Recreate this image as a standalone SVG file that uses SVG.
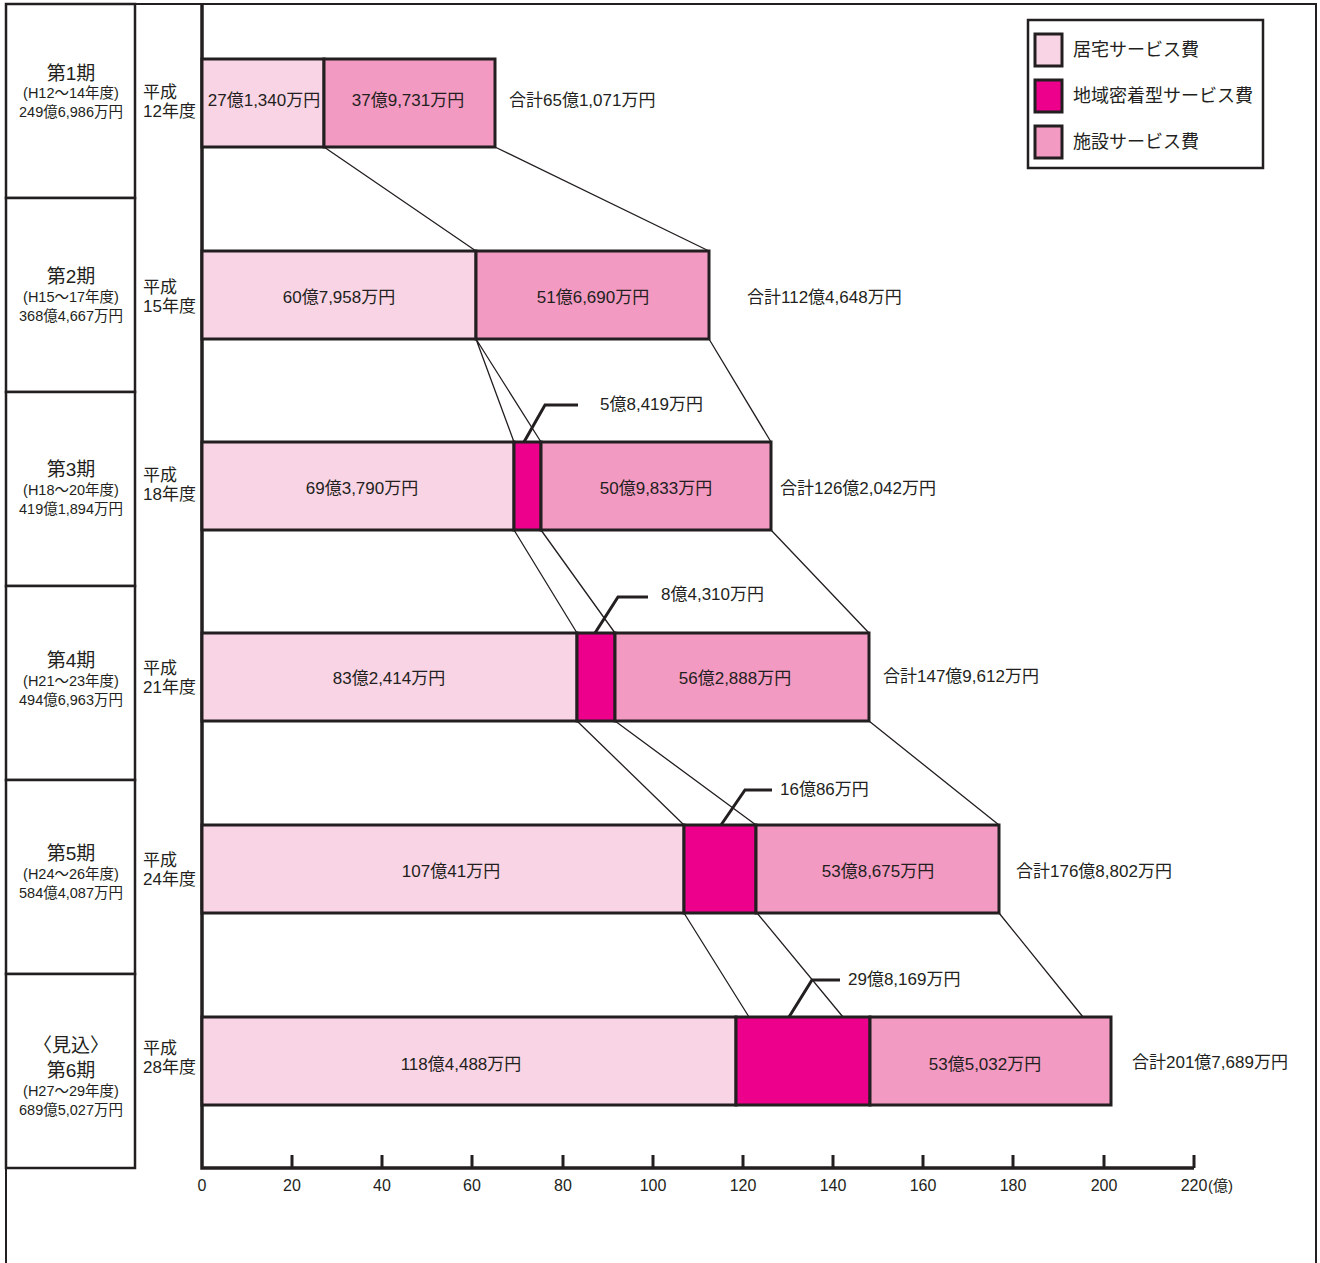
<svg xmlns="http://www.w3.org/2000/svg" width="1320" height="1263" viewBox="0 0 1320 1263">
<style>
text{font-family:"Liberation Sans","Noto Sans CJK JP",sans-serif;fill:#231f20}
.v{font-size:17px;text-anchor:middle}
.t{font-size:17px}
.p{font-size:17px}
.pl{font-size:19px;text-anchor:middle}
.ps{font-size:14.5px;text-anchor:middle}
.ax{font-size:16px;text-anchor:middle}
.a{fill:#f9d4e5}
.b{fill:#ec008c}
.c{fill:#f29ac1}
.bar{stroke:#231f20;stroke-width:3}
.cn{stroke:#231f20;stroke-width:1.3;fill:none}
.co{stroke:#231f20;stroke-width:3;fill:none}
.box{fill:#fff;stroke:#231f20;stroke-width:2.5}
</style>
<rect width="1320" height="1263" fill="#fff"/>
<g id="frame" fill="none" stroke="#231f20">
<polyline points="6,1263 6,4 1316,4 1316,1263" stroke-width="2"/>
</g>
<g id="periods">
<g id="p1"><rect class="box" x="6" y="4" width="129" height="194"/>
<text class="pl" x="71" y="80">第1期</text><text class="ps" x="71" y="98">(H12～14年度)</text><text class="ps" x="71" y="117">249億6,986万円</text></g>
<g id="p2"><rect class="box" x="6" y="198" width="129" height="194"/>
<text class="pl" x="71" y="283">第2期</text><text class="ps" x="71" y="302">(H15～17年度)</text><text class="ps" x="71" y="321">368億4,667万円</text></g>
<g id="p3"><rect class="box" x="6" y="392" width="129" height="194"/>
<text class="pl" x="71" y="476">第3期</text><text class="ps" x="71" y="495">(H18～20年度)</text><text class="ps" x="71" y="514">419億1,894万円</text></g>
<g id="p4"><rect class="box" x="6" y="586" width="129" height="194"/>
<text class="pl" x="71" y="667">第4期</text><text class="ps" x="71" y="686">(H21～23年度)</text><text class="ps" x="71" y="705">494億6,963万円</text></g>
<g id="p5"><rect class="box" x="6" y="780" width="129" height="194"/>
<text class="pl" x="71" y="860">第5期</text><text class="ps" x="71" y="879">(H24～26年度)</text><text class="ps" x="71" y="898">584億4,087万円</text></g>
<g id="p6"><rect class="box" x="6" y="974" width="129" height="194"/>
<text class="pl" x="71" y="1052">〈見込〉</text><text class="pl" x="71" y="1077">第6期</text><text class="ps" x="71" y="1096">(H27～29年度)</text><text class="ps" x="71" y="1115">689億5,027万円</text></g>
</g>
<g id="years">
<text class="p" x="143" y="98">平成</text><text class="p" x="143" y="117">12年度</text>
<text class="p" x="143" y="293">平成</text><text class="p" x="143" y="312">15年度</text>
<text class="p" x="143" y="481">平成</text><text class="p" x="143" y="500">18年度</text>
<text class="p" x="143" y="674">平成</text><text class="p" x="143" y="693">21年度</text>
<text class="p" x="143" y="866">平成</text><text class="p" x="143" y="885">24年度</text>
<text class="p" x="143" y="1054">平成</text><text class="p" x="143" y="1073">28年度</text>
</g>
<g id="axis" stroke="#231f20" fill="none">
<polyline points="202,4 202,1168 1194,1168" stroke-width="3.5"/>
<path d="M292,1168V1155M382,1168V1155M472,1168V1155M563,1168V1155M653,1168V1155M743,1168V1155M833,1168V1155M923,1168V1155M1013,1168V1155M1104,1168V1155M1194,1168V1155" stroke-width="3"/>
</g>
<g id="axis-labels">
<text class="ax" x="202" y="1191">0</text><text class="ax" x="292" y="1191">20</text><text class="ax" x="382" y="1191">40</text><text class="ax" x="472" y="1191">60</text><text class="ax" x="563" y="1191">80</text><text class="ax" x="653" y="1191">100</text><text class="ax" x="743" y="1191">120</text><text class="ax" x="833" y="1191">140</text><text class="ax" x="923" y="1191">160</text><text class="ax" x="1013" y="1191">180</text><text class="ax" x="1104" y="1191">200</text><text class="ax" x="1194" y="1191">220</text>
<text x="1208" y="1191" style="font-size:15px">(億)</text>
</g>
<g id="connectors">
<path class="cn" d="M324,147L476,251M495,147L709,251"/>
<path class="cn" d="M476,339L514,442M476,339L541,442M709,339L771,442"/>
<path class="cn" d="M514,530L577,633M541,530L615,633M771,530L869,633"/>
<path class="cn" d="M577,721L684,825M615,721L756,825M869,721L999,825"/>
<path class="cn" d="M684,913L749,1017M757,913L843,1017M999,913L1083,1017"/>
<path class="co" d="M524,442L545,405H578"/>
<path class="co" d="M595,633L618,597H648"/>
<path class="co" d="M721,825L745,790H772"/>
<path class="co" d="M789,1017L812,980H840"/>
</g>
<g id="row1">
<rect class="a bar" x="202" y="59" width="122" height="88"/>
<rect class="c bar" x="324" y="59" width="171" height="88"/>
<text class="v" x="264" y="106">27億1,340万円</text>
<text class="v" x="408" y="106">37億9,731万円</text>
<text class="t" x="509" y="106">合計65億1,071万円</text>
</g>
<g id="row2">
<rect class="a bar" x="202" y="251" width="274" height="88"/>
<rect class="c bar" x="476" y="251" width="233" height="88"/>
<text class="v" x="339" y="303">60億7,958万円</text>
<text class="v" x="593" y="303">51億6,690万円</text>
<text class="t" x="747" y="303">合計112億4,648万円</text>
</g>
<g id="row3">
<rect class="a bar" x="202" y="442" width="312" height="88"/>
<rect class="b bar" x="514" y="442" width="27" height="88"/>
<rect class="c bar" x="541" y="442" width="230" height="88"/>
<text class="v" x="362" y="494">69億3,790万円</text>
<text class="v" x="656" y="494">50億9,833万円</text>
<text class="t" x="600" y="410">5億8,419万円</text>
<text class="t" x="780" y="494">合計126億2,042万円</text>
</g>
<g id="row4">
<rect class="a bar" x="202" y="633" width="375" height="88"/>
<rect class="b bar" x="577" y="633" width="38" height="88"/>
<rect class="c bar" x="615" y="633" width="254" height="88"/>
<text class="v" x="389" y="684">83億2,414万円</text>
<text class="v" x="735" y="684">56億2,888万円</text>
<text class="t" x="661" y="600">8億4,310万円</text>
<text class="t" x="883" y="682">合計147億9,612万円</text>
</g>
<g id="row5">
<rect class="a bar" x="202" y="825" width="482" height="88"/>
<rect class="b bar" x="684" y="825" width="72" height="88"/>
<rect class="c bar" x="756" y="825" width="243" height="88"/>
<text class="v" x="451" y="877">107億41万円</text>
<text class="v" x="878" y="877">53億8,675万円</text>
<text class="t" x="780" y="795">16億86万円</text>
<text class="t" x="1016" y="877">合計176億8,802万円</text>
</g>
<g id="row6">
<rect class="a bar" x="202" y="1017" width="534" height="88"/>
<rect class="b bar" x="736" y="1017" width="134" height="88"/>
<rect class="c bar" x="870" y="1017" width="241" height="88"/>
<text class="v" x="461" y="1070">118億4,488万円</text>
<text class="v" x="985" y="1070">53億5,032万円</text>
<text class="t" x="848" y="985">29億8,169万円</text>
<text class="t" x="1132" y="1068">合計201億7,689万円</text>
</g>
<g id="legend">
<rect x="1028" y="20" width="235" height="148" fill="#fff" stroke="#231f20" stroke-width="2.5"/>
<rect class="a bar" x="1035" y="34" width="27" height="32" stroke-width="2.5"/>
<rect class="b bar" x="1035" y="80" width="27" height="32" stroke-width="2.5"/>
<rect class="c bar" x="1035" y="126" width="27" height="32" stroke-width="2.5"/>
<text x="1073" y="56" style="font-size:18px">居宅サービス費</text>
<text x="1073" y="102" style="font-size:18px">地域密着型サービス費</text>
<text x="1073" y="148" style="font-size:18px">施設サービス費</text>
</g>
</svg>
